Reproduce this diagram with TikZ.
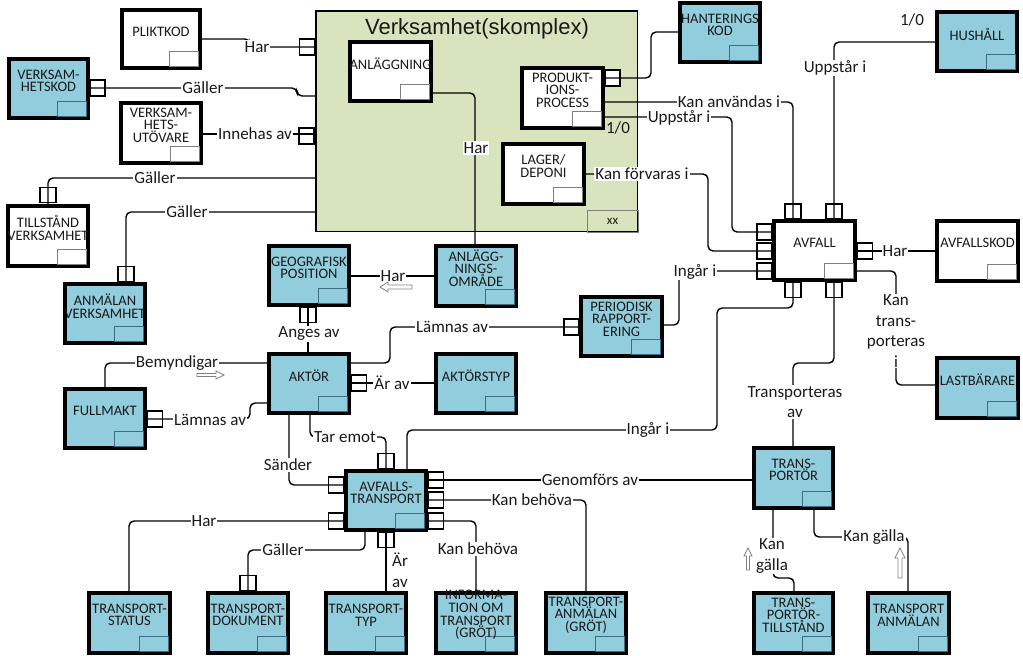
\documentclass[tikz,border=0pt]{standalone}
\usepackage{fontspec}
\setmainfont{Carlito}
\newfontfamily\arialf{Liberation Sans}
\usetikzlibrary{calc}
\definecolor{boxblue}{RGB}{146,205,221}
\definecolor{contgreen}{RGB}{215,228,189}
\definecolor{innerblue}{RGB}{60,110,130}
\definecolor{txt}{RGB}{25,25,25}
\tikzset{
 ebox/.style={draw=black, line width=4pt, inner sep=0pt},
 bluebox/.style={ebox, fill=boxblue},
 whitebox/.style={ebox, fill=white},
 blueinner/.style={draw=innerblue, line width=0.8pt},
 whiteinner/.style={draw=gray, line width=0.8pt},
 boxtext/.style={font=\fontsize{14.5}{12.6}\selectfont, align=center, inner sep=0pt, text=txt},
 conn/.style={draw=black, line width=1.4pt, rounded corners=5pt},
 lbl/.style={fill=white, inner sep=1pt, font=\fontsize{17}{20.5}\selectfont, text=txt},
 lblc/.style={lbl, align=center},
 plain/.style={inner sep=1pt, font=\fontsize{17}{20}\selectfont, text=txt},
 mk/.style={draw=black, fill=white, line width=1.2pt, minimum width=15pt, minimum height=16pt, inner sep=0pt, outer sep=0pt},
 vmk/.style={mk, minimum width=16pt, minimum height=15pt},
 hollow/.style={draw=gray, fill=white, line width=0.8pt},
}
\newcommand\ERbox[7]{%
 \pgfmathsetmacro\bw{#4-#2-4}\pgfmathsetmacro\bh{#5-#3-4}%
 \pgfmathsetmacro\bx{(#2+#4)/2}\pgfmathsetmacro\by{(#3+#5)/2}%
 \node[#6box, minimum width=\bw pt, minimum height=\bh pt] (#1) at (\bx,\by) {};
 \draw[#6inner] ($(#1.south east)+(-4,-4)$) rectangle ++(-29,-15);
 \node[boxtext] (#1-t) at ($(#1.north)+(0,24)$) {#7};
}
\begin{document}
\begin{tikzpicture}[x=1pt,y=-1pt]
\fill[white] (0,0) rectangle (1023,656);
\useasboundingbox (0,0) rectangle (1023,656);

% container
\node[draw=black, line width=1.5pt, fill=contgreen, minimum width=321.5pt, minimum height=220.5pt, inner sep=0pt] (verk) at (476.5,121) {};
\node[font=\arialf\fontsize{22}{24}\selectfont, text=txt, inner sep=0pt] (title) at (477,29) {Verksamhet(skomplex)};
\node[draw=gray, line width=0.8pt, minimum width=51pt, minimum height=22pt, inner sep=0pt, font=\fontsize{13}{14}\selectfont, text=txt] (xx) at (612.5,221) {xx};

% boxes
\ERbox{anl}{348}{40}{433}{103}{white}{ANLÄGGNING}
\ERbox{prod}{520}{66}{605}{130}{white}{PRODUKT-\\IONS-\\PROCESS}
\ERbox{lager}{501}{142}{586}{206}{white}{LAGER/\\DEPONI}
\ERbox{plikt}{120}{8}{202}{70}{white}{PLIKTKOD}
\ERbox{vkod}{7}{57}{90}{120}{blue}{VERKSAM-\\HETSKOD}
\ERbox{vutov}{119}{101}{203}{165}{white}{VERKSAM-\\HETS-\\UTÖVARE}
\ERbox{tillst}{6}{204}{90}{268}{white}{TILLSTÅND\\VERKSAMHET}
\ERbox{anmverk}{63}{282}{147}{345}{blue}{ANMÄLAN\\VERKSAMHET}
\ERbox{geo}{267}{244}{351}{307}{blue}{GEOGRAFISK\\POSITION}
\ERbox{anlomr}{434}{244}{518}{308}{blue}{ANLÄGG-\\NINGS-\\OMRÅDE}
\ERbox{period}{579}{295}{664}{358}{blue}{PERIODISK\\RAPPORT-\\ERING}
\ERbox{aktor}{267}{352}{351}{415}{blue}{AKTÖR}
\ERbox{aktyp}{434}{352}{518}{415}{blue}{AKTÖRSTYP}
\ERbox{fullm}{63}{387}{147}{450}{blue}{FULLMAKT}
\ERbox{avtr}{344}{469}{428}{532}{blue}{AVFALLS-\\TRANSPORT}
\ERbox{tstatus}{87}{591}{172}{655}{blue}{TRANSPORT-\\STATUS}
\ERbox{tdok}{206}{591}{290}{655}{blue}{TRANSPORT-\\DOKUMENT}
\ERbox{ttyp}{324}{591}{408}{655}{blue}{TRANSPORT-\\TYP}
\ERbox{tinfo}{434}{591}{518}{655}{blue}{INFORMA-\\TION OM\\TRANSPORT\\(GRÖT)}
\ERbox{tanmg}{544}{591}{628}{655}{blue}{TRANSPORT-\\ANMÄLAN\\(GRÖT)}
\ERbox{tportor}{752}{446}{835}{510}{blue}{TRANS-\\PORTÖR}
\ERbox{ttillst}{752}{591}{835}{655}{blue}{TRANS-\\PORTÖR-\\TILLSTÅND}
\ERbox{tanm}{866}{591}{951}{655}{blue}{TRANSPORT\\ANMÄLAN}
\ERbox{lastb}{935}{356}{1020}{420}{blue}{LASTBÄRARE}
\ERbox{avkod}{935}{219}{1020}{283}{white}{AVFALLSKOD}
\ERbox{hush}{935}{10}{1019}{73}{blue}{HUSHÅLL}
\ERbox{hkod}{678}{1}{762}{64}{blue}{HANTERINGS\\KOD}
\ERbox{avfall}{772}{219}{857}{282}{white}{AVFALL}

% markers
\node[mk] (m1) at (307,47) {};
\node[mk] (m2) at (97.5,88) {};
\node[mk] (m3) at (306.5,136) {};
\node[vmk] (m4) at (48,195) {};
\node[vmk] (m5) at (126,274) {};
\node[mk] (m6) at (612.5,78) {};
\node[vmk] (m7) at (793,211.5) {};
\node[vmk] (m8) at (834,211.5) {};
\node[mk] (m9) at (764.5,232) {};
\node[mk] (m10) at (764.5,251) {};
\node[mk] (m11) at (764.5,271) {};
\node[mk] (m12) at (865,251) {};
\node[vmk] (m13) at (793,290) {};
\node[vmk] (m14) at (834,290) {};
\node[vmk] (m15) at (308,315) {};
\node[mk] (m16) at (571.5,327) {};
\node[mk] (m17) at (359,383) {};
\node[mk] (m18) at (155,419) {};
\node[mk] (m19) at (336,485) {};
\node[mk] (m20) at (336,521) {};
\node[vmk] (m21) at (386,461) {};
\node[mk] (m22) at (436,480) {};
\node[mk] (m23) at (436,500) {};
\node[mk] (m24) at (436,521) {};
\node[vmk] (m25) at (386,540) {};
\node[vmk] (m26) at (248,583) {};

% connectors
\draw[conn] (plikt.east |- 0,39) -- (250,39) -- (250,47) -- (verk.west |- 0,47);
\draw[conn] (vkod.east |- 0,88) -- (297,88) -- (297,96) -- (verk.west |- 0,96);
\draw[conn] (vutov.east |- 0,134) -- (verk.west |- 0,134);
\draw[conn] (48,0 |- tillst.north) -- (48,178) -- (verk.west |- 0,178);
\draw[conn] (126,0 |- anmverk.north) -- (126,212) -- (verk.west |- 0,212);
\draw[conn] (anl.east |- 0,93) -- (475,93) -- (475,0 |- anlomr.north);
\draw[conn] (prod.east |- 0,78) -- (651,78) -- (651,32) -- (hkod.west |- 0,32);
\draw[conn] (prod.east |- 0,102) -- (793,102) -- (793,0 |- avfall.north);
\draw[conn] (prod.east |- 0,117) -- (732,117) -- (732,232) -- (avfall.west |- 0,232);
\draw[conn] (lager.east |- 0,174) -- (708,174) -- (708,251) -- (avfall.west |- 0,251);
\draw[conn] (hush.west |- 0,42) -- (834,42) -- (834,0 |- avfall.north);
\draw[conn] (avfall.east |- 0,251) -- (avkod.west |- 0,251);
\draw[conn] (avfall.east |- 0,271) -- (896,271) -- (896,385) -- (lastb.west |- 0,385);
\draw[conn] (avfall.west |- 0,271) -- (679,271) -- (679,325) -- (period.east |- 0,325);
\draw[conn] (793,0 |- avfall.south) -- (793,308) -- (717,308) -- (717,430) -- (407,430) -- (407,0 |- avtr.north);
\draw[conn] (834,0 |- avfall.south) -- (834,363) -- (793,363) -- (793,0 |- tportor.north);
\draw[conn] (geo.east |- 0,276) -- (anlomr.west |- 0,276);
\draw[conn] (308,0 |- geo.south) -- (308,0 |- aktor.north);
\draw[conn] (aktor.east |- 0,363) -- (390,363) -- (390,327) -- (period.west |- 0,327);
\draw[conn] (aktor.east |- 0,383) -- (aktyp.west |- 0,383);
\draw[conn] (105,0 |- fullm.north) -- (105,363) -- (aktor.west |- 0,363);
\draw[conn] (fullm.east |- 0,419) -- (250,419) -- (250,403) -- (aktor.west |- 0,403);
\draw[conn] (289,0 |- aktor.south) -- (289,485) -- (avtr.west |- 0,485);
\draw[conn] (310,0 |- aktor.south) -- (310,437) -- (386,437) -- (386,0 |- avtr.north);
\draw[conn] (avtr.east |- 0,480) -- (tportor.west |- 0,480);
\draw[conn] (avtr.east |- 0,500) -- (586,500) -- (586,0 |- tanmg.north);
\draw[conn] (avtr.east |- 0,521) -- (476,521) -- (476,0 |- tinfo.north);
\draw[conn] (avtr.west |- 0,521) -- (129,521) -- (129,0 |- tstatus.north);
\draw[conn] (365,0 |- avtr.south) -- (365,550) -- (248,550) -- (248,0 |- tdok.north);
\draw[conn] (386,0 |- avtr.south) -- (386,0 |- ttyp.north);
\draw[conn] (773,0 |- tportor.south) -- (773,578) -- (794,578) -- (794,0 |- ttillst.north);
\draw[conn] (814,0 |- tportor.south) -- (814,537) -- (908,537) -- (908,0 |- tanm.north);

% labels
\node[lbl] (l-har1) at (257,47) {Har};
\node[lbl] (l-gal1) at (203,88) {Gäller};
\node[lbl] (l-inn) at (255,134) {Innehas av};
\node[lbl] (l-gal2) at (155,178) {Gäller};
\node[lbl] (l-gal3) at (187,212) {Gäller};
\node[lbl] (l-har2) at (476,148) {Har};
\node[lbl] (l-kananv) at (729,102) {Kan användas i};
\node[lbl] (l-upp1) at (679,118) {Uppstår i};
\node[plain] (l-10a) at (618,128) {1/0};
\node[lbl] (l-kanforv) at (642,174) {Kan förvaras i};
\node[lbl] (l-upp2) at (835,68) {Uppstår i};
\node[plain] (l-10b) at (912,20) {1/0};
\node[lbl] (l-har3) at (895,251) {Har};
\node[lblc] (l-kantr) at (896,331) {Kan\\trans-\\porteras\\i};
\node[lbl] (l-ing1) at (695,272) {Ingår i};
\node[lbl] (l-ing2) at (648,430) {Ingår i};
\node[lblc] (l-trav) at (795,402) {Transporteras\\av};
\node[lbl] (l-har4) at (393,276) {Har};
\node[lbl] (l-anges) at (309,334) {Anges av};
\node[lbl] (l-lamn1) at (452,327) {Lämnas av};
\node[lbl] (l-arav1) at (392,383) {Är av};
\node[lbl] (l-bem) at (177,363) {Bemyndigar};
\node[lbl] (l-lamn2) at (210,420) {Lämnas av};
\node[lbl] (l-sand) at (288,465) {Sänder};
\node[lbl] (l-taremot) at (345,437) {Tar emot};
\node[lbl] (l-genom) at (590,480) {Genomförs av};
\node[lbl] (l-kanbeh1) at (532,500) {Kan behöva};
\node[lbl] (l-kanbeh2) at (478,549) {Kan behöva};
\node[lbl] (l-har5) at (204,521) {Har};
\node[lbl] (l-gal4) at (283,550) {Gäller};
\node[lbl, align=left, anchor=west] (l-arav2) at (391,570) {Är\\av};
\node[lblc] (l-kang1) at (772,556) {Kan\\gälla};
\node[lbl] (l-kang2) at (874,537) {Kan gälla};

% hollow direction arrows
\draw[hollow] (380,287) -- (388,282) -- (388,285) -- (412,285) -- (412,289) -- (388,289) -- (388,292) -- cycle;
\draw[hollow] (224,375) -- (216,371) -- (216,373.5) -- (197,373.5) -- (197,376.5) -- (216,376.5) -- (216,379) -- cycle;
\draw[hollow] (748,548) -- (752,556) -- (749.5,556) -- (749.5,570) -- (746.5,570) -- (746.5,556) -- (744,556) -- cycle;
\draw[hollow] (900,548) -- (905,558) -- (902,558) -- (902,578) -- (898,578) -- (898,558) -- (895,558) -- cycle;
\end{tikzpicture}
\end{document}
